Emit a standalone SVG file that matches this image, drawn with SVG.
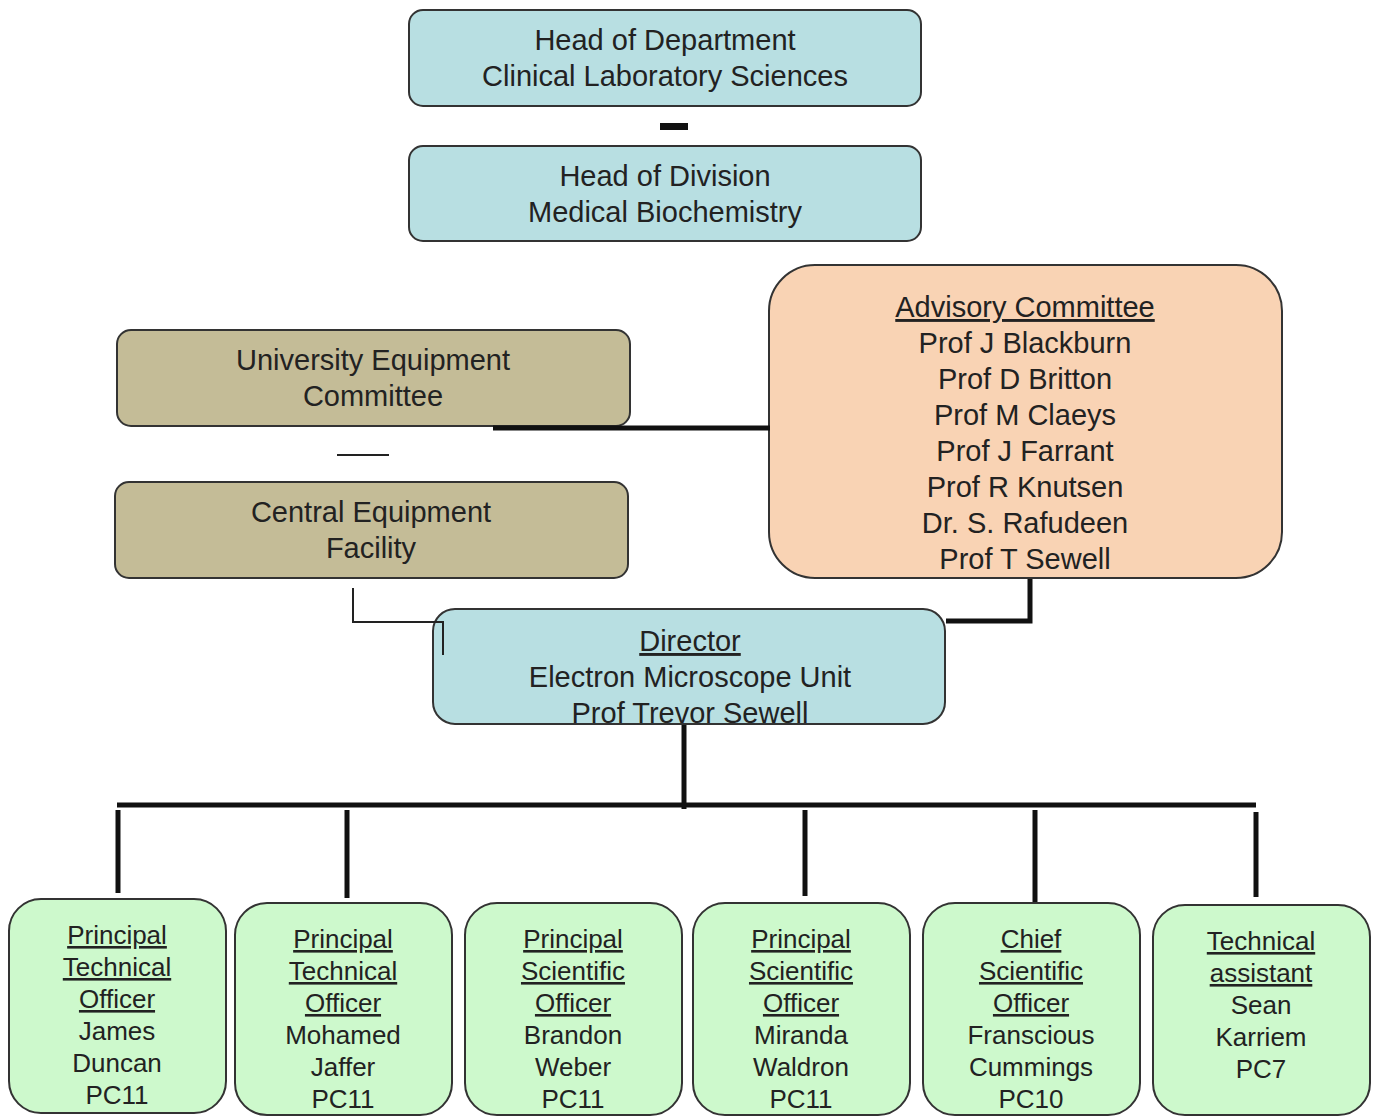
<svg xmlns="http://www.w3.org/2000/svg" width="1378" height="1116" viewBox="0 0 1378 1116">
<style>
.box{stroke:#333;stroke-width:2}
.blue{fill:#b8dfe2}
.tan{fill:#c4bc97}
.peach{fill:#f9d3b4}
.green{fill:#cdf9cc}
text{font-family:"Liberation Sans",Arial,sans-serif;fill:#222;text-anchor:middle}
.big{font-size:29px}
.sm{font-size:26px}
.u{text-decoration:underline}
.thick{stroke:#111;stroke-width:5;fill:none}
.thin{stroke:#222;stroke-width:2;fill:none}
</style>
<rect width="1378" height="1116" fill="#fff"/>
<g id="head-dept">
<rect x="409" y="10" width="512" height="96" rx="14" class="box blue"/>
<text class="big" x="665" y="50">Head of Department</text>
<text class="big" x="665" y="86">Clinical Laboratory Sciences</text>
</g>
<g id="head-div">
<rect x="409" y="146" width="512" height="95" rx="14" class="box blue"/>
<text class="big" x="665" y="186">Head of Division</text>
<text class="big" x="665" y="222">Medical Biochemistry</text>
</g>
<g id="uni-equip">
<rect x="117" y="330" width="513" height="96" rx="14" class="box tan"/>
<text class="big" x="373" y="370">University Equipment</text>
<text class="big" x="373" y="406">Committee</text>
</g>
<g id="central-equip">
<rect x="115" y="482" width="513" height="96" rx="14" class="box tan"/>
<text class="big" x="371" y="522">Central Equipment</text>
<text class="big" x="371" y="558">Facility</text>
</g>
<g id="advisory">
<rect x="769" y="265" width="513" height="313" rx="46" class="box peach"/>
<text class="big u" x="1025" y="317">Advisory Committee</text>
<text class="big" x="1025" y="353">Prof J Blackburn</text>
<text class="big" x="1025" y="389">Prof D Britton</text>
<text class="big" x="1025" y="425">Prof M Claeys</text>
<text class="big" x="1025" y="461">Prof J Farrant</text>
<text class="big" x="1025" y="497">Prof R Knutsen</text>
<text class="big" x="1025" y="533">Dr. S. Rafudeen</text>
<text class="big" x="1025" y="569">Prof T Sewell</text>
</g>
<g id="director">
<rect x="433" y="609" width="512" height="115" rx="22" class="box blue"/>
<text class="big u" x="690" y="651">Director</text>
<text class="big" x="690" y="687">Electron Microscope Unit</text>
<text class="big" x="690" y="723">Prof Trevor Sewell</text>
</g>
<g id="staff-1">
<rect x="9" y="899" width="217" height="214" rx="32" class="box green"/>
<text class="sm u" x="117" y="944">Principal</text>
<text class="sm u" x="117" y="976">Technical</text>
<text class="sm u" x="117" y="1008">Officer</text>
<text class="sm" x="117" y="1040">James</text>
<text class="sm" x="117" y="1072">Duncan</text>
<text class="sm" x="117" y="1104">PC11</text>
</g>
<g id="staff-2">
<rect x="235" y="903" width="217" height="212" rx="32" class="box green"/>
<text class="sm u" x="343" y="948">Principal</text>
<text class="sm u" x="343" y="980">Technical</text>
<text class="sm u" x="343" y="1012">Officer</text>
<text class="sm" x="343" y="1044">Mohamed</text>
<text class="sm" x="343" y="1076">Jaffer</text>
<text class="sm" x="343" y="1108">PC11</text>
</g>
<g id="staff-3">
<rect x="465" y="903" width="217" height="212" rx="32" class="box green"/>
<text class="sm u" x="573" y="948">Principal</text>
<text class="sm u" x="573" y="980">Scientific</text>
<text class="sm u" x="573" y="1012">Officer</text>
<text class="sm" x="573" y="1044">Brandon</text>
<text class="sm" x="573" y="1076">Weber</text>
<text class="sm" x="573" y="1108">PC11</text>
</g>
<g id="staff-4">
<rect x="693" y="903" width="217" height="212" rx="32" class="box green"/>
<text class="sm u" x="801" y="948">Principal</text>
<text class="sm u" x="801" y="980">Scientific</text>
<text class="sm u" x="801" y="1012">Officer</text>
<text class="sm" x="801" y="1044">Miranda</text>
<text class="sm" x="801" y="1076">Waldron</text>
<text class="sm" x="801" y="1108">PC11</text>
</g>
<g id="staff-5">
<rect x="923" y="903" width="217" height="212" rx="32" class="box green"/>
<text class="sm u" x="1031" y="948">Chief</text>
<text class="sm u" x="1031" y="980">Scientific</text>
<text class="sm u" x="1031" y="1012">Officer</text>
<text class="sm" x="1031" y="1044">Franscious</text>
<text class="sm" x="1031" y="1076">Cummings</text>
<text class="sm" x="1031" y="1108">PC10</text>
</g>
<g id="staff-6">
<rect x="1153" y="905" width="217" height="210" rx="32" class="box green"/>
<text class="sm u" x="1261" y="950">Technical</text>
<text class="sm u" x="1261" y="982">assistant</text>
<text class="sm" x="1261" y="1014">Sean</text>
<text class="sm" x="1261" y="1046">Karriem</text>
<text class="sm" x="1261" y="1078">PC7</text>
</g>
<g id="connectors">
<rect x="660" y="123" width="28" height="7" fill="#111"/>
<line x1="337" y1="455" x2="389" y2="455" class="thin"/>
<line x1="493" y1="428" x2="770" y2="428" class="thick"/>
<polyline points="353,588 353,622 443,622 443,655" class="thin"/>
<polyline points="1030,579 1030,621 946,621" class="thick"/>
<line x1="684" y1="725" x2="684" y2="809" class="thick"/>
<line x1="117" y1="805" x2="1256" y2="805" class="thick"/>
<line x1="118" y1="810" x2="118" y2="893" class="thick"/>
<line x1="347" y1="810" x2="347" y2="898" class="thick"/>
<line x1="805" y1="810" x2="805" y2="896" class="thick"/>
<line x1="1035" y1="810" x2="1035" y2="902" class="thick"/>
<line x1="1256" y1="812" x2="1256" y2="897" class="thick"/>
</g>
</svg>
